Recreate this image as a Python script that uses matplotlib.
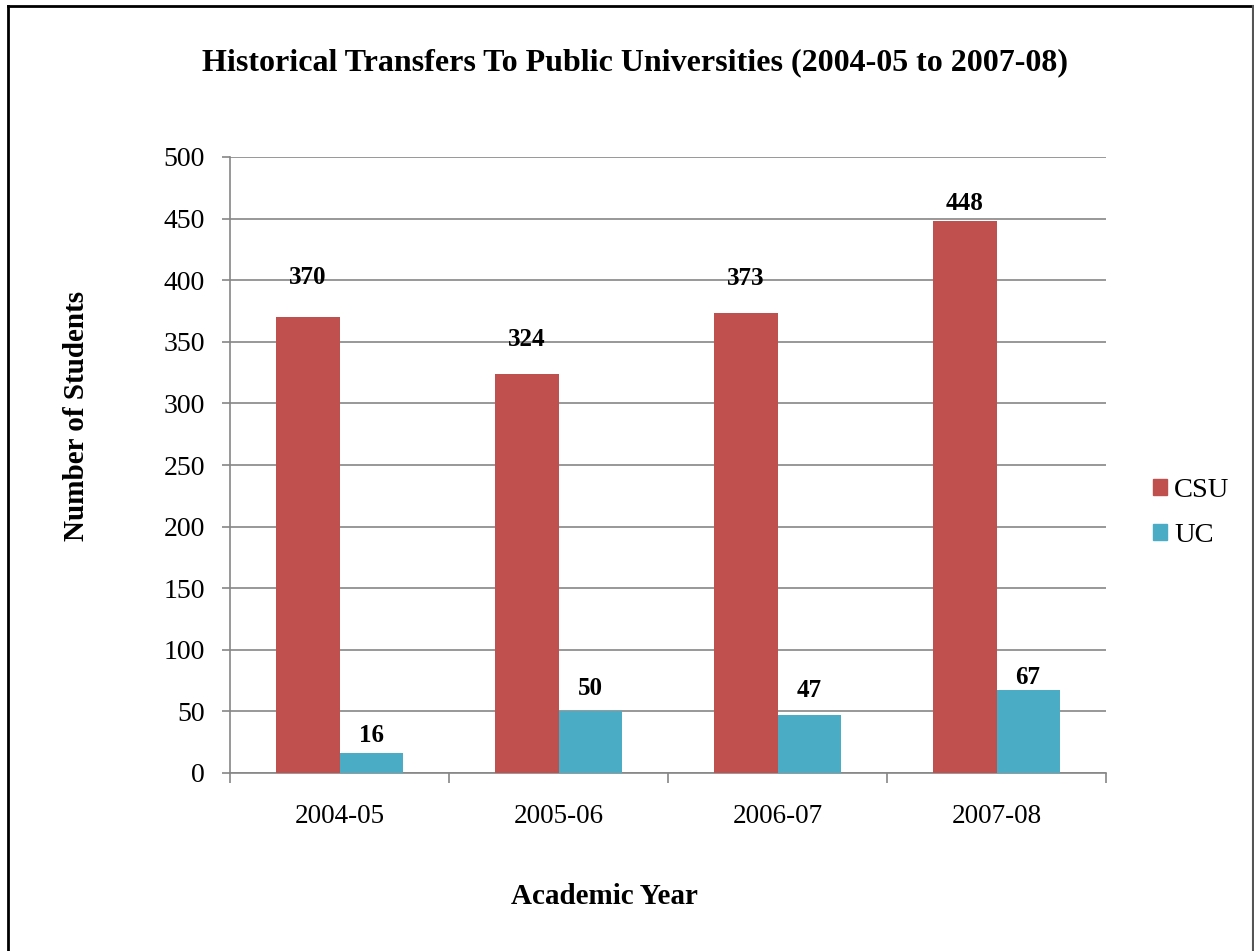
import matplotlib
matplotlib.use("Agg")
import matplotlib.pyplot as plt
import numpy as np
from matplotlib.patches import Rectangle
from matplotlib.lines import Line2D

years = ["2004-05", "2005-06", "2006-07", "2007-08"]
csu = [370, 324, 373, 448]
uc = [16, 50, 47, 67]
series_names = ["CSU", "UC"]
# vertical offsets (pixels) of the value labels above their bars
csu_label_offset = [40, 34, 35, 18]
uc_label_offset = [18, 23, 25, 13]

plt.rcParams['font.family'] = ['Liberation Serif', 'DejaVu Serif']

W, H = 1254, 951
fig = plt.figure(figsize=(W / 100, H / 100), dpi=100)
ax = fig.add_axes([230 / W, 1 - 773 / H, (1106 - 230) / W, (773 - 157) / H])

csu_color = "#C0504D"
uc_color = "#4BACC6"
grid_color = "#868686"

x = np.arange(len(years))
bw = 0.288
b1 = ax.bar(x - bw / 2, csu, bw, color=csu_color, label=series_names[0], zorder=3)
b2 = ax.bar(x + bw / 2, uc, bw, color=uc_color, label=series_names[1], zorder=3)

px2pt = 72 / 100
for rect, v, off in zip(b1, csu, csu_label_offset):
    ax.annotate(str(v), (rect.get_x() + rect.get_width() / 2, v),
                xytext=(0, off * px2pt), textcoords="offset points",
                ha="center", va="center", fontsize=18, fontweight="bold")
for rect, v, off in zip(b2, uc, uc_label_offset):
    ax.annotate(str(v), (rect.get_x() + rect.get_width() / 2, v),
                xytext=(0, off * px2pt), textcoords="offset points",
                ha="center", va="center", fontsize=18, fontweight="bold")

ax.set_xlim(-0.5, len(years) - 0.5)
ax.set_ylim(0, 500)
ax.set_yticks(np.arange(0, 501, 50))
ax.yaxis.grid(True, color=grid_color, linewidth=1.2, zorder=0)
ax.set_axisbelow(True)

ax.set_xticks(x)
ax.set_xticklabels(years, fontsize=19.5)
ax.tick_params(axis="x", length=0, pad=22)
ax.set_xticks(np.arange(-0.5, len(years), 1.0), minor=True)
ax.tick_params(axis="x", which="minor", length=7, color=grid_color, width=1.2, direction="out")
ax.tick_params(axis="y", labelsize=20, length=6, color=grid_color, width=1.2, pad=12)

for s in ["top", "right"]:
    ax.spines[s].set_visible(False)
for s in ["left", "bottom"]:
    ax.spines[s].set_color(grid_color)
    ax.spines[s].set_linewidth(1.2)

fig.text(635 / W, 1 - 63 / H, "Historical Transfers To Public Universities (2004-05 to 2007-08)",
         ha="center", va="center", fontsize=23, fontweight="bold")
fig.text(604 / W, 1 - 897 / H, "Academic Year", ha="center", va="center",
         fontsize=21, fontweight="bold")
fig.text(76 / W, 1 - 416 / H, "Number of Students", ha="center", va="center",
         rotation=90, fontsize=21, fontweight="bold")

handles = [Rectangle((0, 0), 1, 1, color=csu_color), Rectangle((0, 0), 1, 1, color=uc_color)]
fig.legend(handles, series_names, loc="center left", bbox_to_anchor=(1153 / W, 1 - 513 / H),
           frameon=False, fontsize=20.5, handlelength=0.5, handleheight=0.5,
           handletextpad=0.25, labelspacing=0.72, borderaxespad=0, borderpad=0)

# outer border
fig.add_artist(Line2D([8 / W, 8 / W], [0, 1 - 6 / H], transform=fig.transFigure, color="black", linewidth=2))
fig.add_artist(Line2D([8 / W, 1253 / W], [1 - 6 / H, 1 - 6 / H], transform=fig.transFigure, color="black", linewidth=2))
fig.add_artist(Line2D([1252.5 / W, 1252.5 / W], [0, 1 - 6 / H], transform=fig.transFigure, color="#555555", linewidth=1.5))

fig.savefig("out.png", dpi=100, facecolor="white")
